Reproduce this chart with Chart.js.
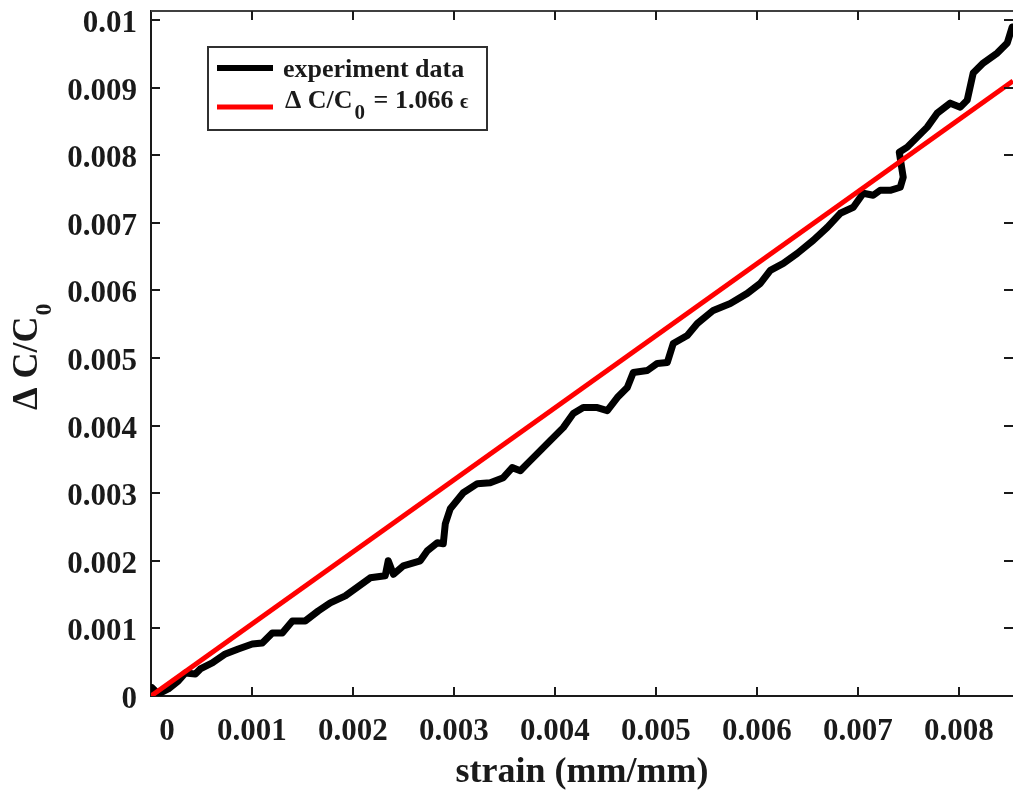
<!DOCTYPE html>
<html><head><meta charset="utf-8">
<script src="https://cdn.jsdelivr.net/npm/chart.js@4.4.0/dist/chart.umd.min.js"></script>
<style>html,body{margin:0;padding:0;background:#fff;}</style>
</head><body>
<canvas id="c" width="1013" height="791" style="display:block"></canvas>
<script>
// ---- data ----
const strain = [0.000010,0.000072,0.000171,0.000270,0.000340,0.000439,0.000488,0.000607,0.000736,0.000864,
0.001003,0.001102,0.001201,0.001300,0.001400,0.001528,0.001657,0.001775,0.001924,0.002171,
0.002319,0.002349,0.002400,0.002498,0.002666,0.002736,0.002835,0.002894,0.002914,0.002963,
0.003092,0.003231,0.003359,0.003488,0.003577,0.003657,0.003726,0.003825,0.003953,0.004082,
0.004181,0.004280,0.004419,0.004518,0.004617,0.004716,0.004775,0.004914,0.005013,0.005112,
0.005171,0.005310,0.005409,0.005567,0.005736,0.005904,0.006033,0.006132,0.006261,0.006399,
0.006558,0.006696,0.006825,0.006954,0.007052,0.007151,0.007220,0.007319,0.007419,0.007448,
0.007409,0.007488,0.007587,0.007686,0.007785,0.007914,0.008013,0.008082,0.008141,0.008240,
0.008379,0.008478,0.008527];
const deltaC = [0.000123,0.000030,0.000104,0.000222,0.000340,0.000326,0.000400,0.000489,0.000622,0.000696,
0.000770,0.000785,0.000933,0.000933,0.001111,0.001111,0.001259,0.001378,0.001481,0.001748,
0.001778,0.002000,0.001800,0.001926,0.002000,0.002148,0.002267,0.002252,0.002548,0.002770,
0.003007,0.003141,0.003156,0.003230,0.003378,0.003333,0.003437,0.003585,0.003778,0.003970,
0.004178,0.004267,0.004267,0.004222,0.004415,0.004563,0.004785,0.004815,0.004919,0.004933,
0.005215,0.005333,0.005511,0.005704,0.005807,0.005956,0.006104,0.006296,0.006400,0.006548,
0.006741,0.006933,0.007141,0.007230,0.007437,0.007407,0.007481,0.007481,0.007526,0.007674,
0.008044,0.008119,0.008267,0.008415,0.008622,0.008770,0.008711,0.008815,0.009215,0.009363,
0.009511,0.009659,0.009896];
const fitStrain = [0, 0.008535];
const fitDeltaC = [0, 0.009098];
const xTicks = [0,0.001,0.002,0.003,0.004,0.005,0.006,0.007,0.008];
const xTickLabels = ['0','0.001','0.002','0.003','0.004','0.005','0.006','0.007','0.008'];
const yTicks = [0,0.001,0.002,0.003,0.004,0.005,0.006,0.007,0.008,0.009,0.01];
const yTickLabels = ['0','0.001','0.002','0.003','0.004','0.005','0.006','0.007','0.008','0.009','0.01'];
const seriesNames = ['experiment data', 'fit'];
const xTitle = 'strain (mm/mm)';
const X_MIN = 0, X_MAX = 0.008535, Y_MIN = 0, Y_MAX = 0.010133;

const FONT = '"Liberation Serif","Times New Roman",serif';
const AX = '#1a1a1a';

const expPts = strain.map((x,i)=>({x:x, y:deltaC[i]}));
const fitPts = fitStrain.map((x,i)=>({x:x, y:fitDeltaC[i]}));

function richText(ctx, x, y, parts){
  let cx = x;
  for (const p of parts){
    ctx.font = 'bold ' + p.size + 'px ' + FONT;
    ctx.fillText(p.t, cx, y + (p.dy||0));
    cx += ctx.measureText(p.t).width + (p.gap||0);
  }
}

const decor = {
  id:'decor',
  afterDraw(chart){
    const ctx = chart.ctx, xs = chart.scales.x, ys = chart.scales.y, a = chart.chartArea;
    ctx.save();
    // top border and inner ticks
    ctx.strokeStyle = '#404040'; ctx.lineWidth = 2;
    ctx.beginPath(); ctx.moveTo(a.left, a.top); ctx.lineTo(a.right+2, a.top); ctx.stroke();
    ctx.strokeStyle = AX; ctx.lineWidth = 2;
    ctx.beginPath();
    xTicks.forEach(v=>{ if(v===0) return; const p = Math.round(xs.getPixelForValue(v));
      ctx.moveTo(p, a.bottom); ctx.lineTo(p, a.bottom-9);
      ctx.moveTo(p, a.top); ctx.lineTo(p, a.top+9); });
    yTicks.forEach(v=>{ if(v===0) return; const p = Math.round(ys.getPixelForValue(v));
      ctx.moveTo(a.left, p); ctx.lineTo(a.left+9, p);
      ctx.moveTo(a.right, p); ctx.lineTo(a.right-9, p); });
    ctx.stroke();
    // tick labels
    ctx.fillStyle = AX; ctx.font = 'bold 31px ' + FONT; ctx.textAlign='center'; ctx.textBaseline='alphabetic';
    xTicks.forEach((v,i)=>{ let p = xs.getPixelForValue(v); if (v===0) p += 16; ctx.fillText(xTickLabels[i], p, 740); });
    ctx.textAlign='right';
    yTicks.forEach((v,i)=>{ const p = ys.getPixelForValue(v); ctx.fillText(yTickLabels[i], 137, p + 12); });
    // x title
    ctx.textAlign='center';
    ctx.font = 'bold 36px ' + FONT;
    ctx.fillText(xTitle, (a.left+a.right)/2, 782);
    // y title (rotated, with subscript)
    ctx.save();
    ctx.translate(37, 410); ctx.rotate(-Math.PI/2);
    ctx.textAlign='left';
    richText(ctx, 0, 0, [{t:'\u0394 C/C', size:36, gap:1},{t:'0', size:24, dy:14}]);
    ctx.restore();
    // legend
    ctx.fillStyle = '#fff'; ctx.fillRect(208,47,279,83);
    ctx.strokeStyle = '#303030'; ctx.lineWidth = 2; ctx.strokeRect(208,47,279,83);
    ctx.lineCap='butt';
    ctx.strokeStyle = '#000'; ctx.lineWidth = 6;
    ctx.beginPath(); ctx.moveTo(217,68); ctx.lineTo(273,68); ctx.stroke();
    ctx.strokeStyle = '#ff0000'; ctx.lineWidth = 5;
    ctx.beginPath(); ctx.moveTo(217,107); ctx.lineTo(273,107); ctx.stroke();
    ctx.fillStyle = AX; ctx.textAlign='left'; ctx.textBaseline='alphabetic';
    ctx.font = 'bold 26px ' + FONT;
    ctx.fillText(seriesNames[0], 283, 77);
    richText(ctx, 285, 108, [{t:'\u0394 C/C', size:26, gap:2},{t:'0', size:21, dy:11, gap:2},{t:' = 1.066 ', size:26},{t:'\u03F5', size:20}]);
    ctx.restore();
  }
};

new Chart(document.getElementById('c'), {
  type:'scatter',
  data:{ datasets:[
    { label: seriesNames[1], data: fitPts, showLine:true, borderColor:'#ff0000', borderWidth:5, pointRadius:0, order:0 },
    { label: seriesNames[0], data: expPts, showLine:true, borderColor:'#000000', borderWidth:7, pointRadius:0,
      borderJoinStyle:'round', borderCapStyle:'round', order:1 }
  ]},
  options:{
    responsive:false, animation:false, devicePixelRatio:1,
    layout:{ padding:{ left:0, top:11, right:0, bottom:0 } },
    plugins:{ legend:{display:false}, tooltip:{enabled:false} },
    scales:{
      x:{ type:'linear', min:X_MIN, max:X_MAX,
        afterBuildTicks(s){ s.ticks = xTicks.map(v=>({value:v})); },
        afterFit(s){ s.height = 95; },
        ticks:{ display:false },
        grid:{ drawOnChartArea:false, drawTicks:false, color:'rgba(0,0,0,0)' },
        border:{ display:true, color:AX, width:2 }
      },
      y:{ type:'linear', min:Y_MIN, max:Y_MAX,
        afterBuildTicks(s){ s.ticks = yTicks.map(v=>({value:v})); },
        afterFit(s){ s.width = 151; },
        ticks:{ display:false },
        grid:{ drawOnChartArea:false, drawTicks:false, color:'rgba(0,0,0,0)' },
        border:{ display:true, color:AX, width:2 }
      }
    }
  },
  plugins:[decor]
});
</script>
</body></html>
